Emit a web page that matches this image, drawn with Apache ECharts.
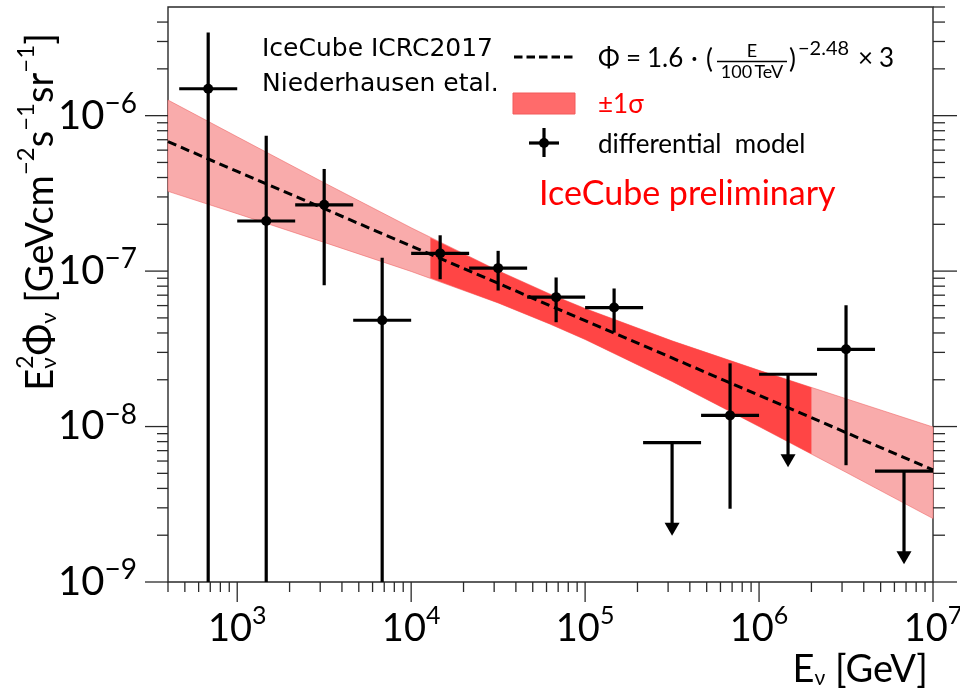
<!DOCTYPE html>
<html>
<head>
<meta charset="utf-8">
<title>IceCube differential neutrino flux</title>
<script src="https://cdn.jsdelivr.net/npm/echarts@6/dist/echarts.min.js"></script>
<style>
  html, body { margin: 0; padding: 0; background: #fff; }
  #chart { width: 960px; height: 688px; }
</style>
</head>
<body>
<div id="chart"></div>
<script>
// ---------------------------------------------------------------------------
// Data
// ---------------------------------------------------------------------------
// Energy bins of the differential fit [GeV]
const binLow    = [464, 1000, 2154, 4642, 10000, 21544, 46416, 100000, 215443, 464159, 1000000, 2154435, 4641589];
const binCenter = [681, 1468, 3162, 6813, 14678, 31623, 68129, 146780, 316228, 681292, 1467799, 3162278, 6812921];
const binHigh   = [1000, 2154, 4642, 10000, 21544, 46416, 100000, 215443, 464159, 1000000, 2154435, 4641589, 10000000];

// E^2 Phi per bin [GeV cm^-2 s^-1 sr^-1]; a lower error of 0 runs off the bottom of the axis
const flux     = [1.49e-6, 2.10e-7, 2.67e-7, 4.83e-8, 1.30e-7, 1.045e-7, 6.8e-8, 5.83e-8, 7.87e-9, 1.18e-8, 2.17e-8, 3.14e-8, 5.16e-9];
const fluxUp   = [3.43e-6, 7.43e-7, 4.54e-7, 1.22e-7, 1.70e-7, 1.35e-7, 9.1e-8, 7.73e-8, null, 2.55e-8, null, 6.03e-8, null];
const fluxDown = [0, 0, 8.11e-8, 0, 8.87e-8, 7.5e-8, 4.69e-8, 4.02e-8, null, 2.96e-9, null, 5.64e-9, null];
const upperLimit = [0, 0, 0, 0, 0, 0, 0, 0, 1, 0, 1, 0, 1];

// Single power-law model (x3), E^2 Phi
const modelE    = [400, 1000, 10000, 100000, 1000000, 10000000];
const modelFlux = [6.80e-7, 4.38e-7, 1.45e-7, 4.80e-8, 1.59e-8, 5.26e-9];

// +-1 sigma band, full extrapolated range
const bandE     = [400, 1000, 3162, 10000, 31623, 63096, 100000, 316228, 1000000, 3162278, 10000000];
const bandUpper = [1.26e-6, 7.31e-7, 3.70e-7, 1.90e-7, 1.007e-7, 7.11e-8, 5.75e-8, 3.56e-8, 2.30e-8, 1.51e-8, 9.93e-9];
const bandLower = [3.26e-7, 2.34e-7, 1.53e-7, 9.95e-8, 6.24e-8, 4.55e-8, 3.63e-8, 1.95e-8, 1.00e-8, 5.08e-9, 2.56e-9];

// +-1 sigma band inside the sensitive energy range
const coreE     = [12900, 31623, 63096, 100000, 316228, 1000000, 2000000];
const coreUpper = [1.64e-7, 1.007e-7, 7.11e-8, 5.75e-8, 3.56e-8, 2.30e-8, 1.78e-8];
const coreLower = [9.02e-8, 6.24e-8, 4.55e-8, 3.63e-8, 1.95e-8, 1.00e-8, 6.67e-9];

// Axis ranges and tick positions
const X_MIN = 400, X_MAX = 1e7, Y_MIN = 1e-9, Y_MAX = 5e-6;
const xDecades = [100, 1e3, 1e4, 1e5, 1e6, 1e7];
const yDecades = [1e-9, 1e-8, 1e-7, 1e-6];
const mantissas = [1, 2, 3, 4, 5, 6, 7, 8, 9];

// ---------------------------------------------------------------------------
const FONT = 'Lato, "DejaVu Sans", sans-serif';
const HAND = '"DejaVu Sans", sans-serif';
const INK = '#000';
const FRAME = '#2a2a2a';

function isDecade(v) {
  const l = Math.log10(v);
  return Math.abs(l - Math.round(l)) < 1e-6;
}
function ticksIn(decades, lo, hi) {
  const out = [];
  decades.forEach(d => mantissas.forEach(m => {
    const v = +(d * m).toPrecision(6);
    if (v >= lo * 0.9999 && v <= hi * 1.0001 && out.indexOf(v) < 0) out.push(v);
  }));
  return out;
}
const xTicks = ticksIn(xDecades, X_MIN, X_MAX);
const yTicks = ticksIn(yDecades, Y_MIN, Y_MAX);

// text helpers (baseline-anchored)
const mctx = document.createElement('canvas').getContext('2d');
function tw(t, size, fam) { mctx.font = size + 'px ' + fam; return mctx.measureText(t).width; }
function txt(t, x, base, size, fam, color, align) {
  return {
    type: 'text', x: x, y: base - 0.31 * size, silent: true,
    style: { text: t, fontSize: size, fontFamily: fam, fill: color || INK,
             align: align || 'left', verticalAlign: 'middle' }
  };
}
// pieces laid out left to right; "stack" keeps the pen where it is for the next piece
function run(pieces, fam) {
  let x = 0, held = 0;
  const kids = [];
  pieces.forEach(p => {
    const w = tw(p.t, p.s, fam);
    kids.push(txt(p.t, x, -(p.rise || 0), p.s, fam, p.c));
    if (p.stack) { held = w; }
    else { x += Math.max(w, held); held = 0; }
  });
  return { kids: kids, width: x };
}

// axis titles
const yTitle = run([
  { t: 'E', s: 38 }, { t: '2', s: 23, rise: 20, stack: true }, { t: '\u03bd', s: 22, rise: -3 },
  { t: '\u03a6', s: 38 }, { t: '\u03bd', s: 22, rise: -3 },
  { t: ' [GeVcm', s: 38 }, { t: '\u22122', s: 24, rise: 19 },
  { t: 's', s: 38 }, { t: '\u22121', s: 24, rise: 19 },
  { t: 'sr', s: 38 }, { t: '\u22121', s: 24, rise: 19 },
  { t: ']', s: 38 }
], FONT);
const xTitle = run([
  { t: 'E', s: 38 }, { t: '\u03bd', s: 21, rise: -3 }, { t: ' [GeV]', s: 38 }
], FONT);

// ---------------------------------------------------------------------------
const chart = echarts.init(document.getElementById('chart'), null, { renderer: 'canvas' });

function bandPolygon(E, up, lo, fill, stroke) {
  return function (params, api) {
    if (params.dataIndex !== 0) return null;
    const pts = [];
    for (let i = 0; i < E.length; i++) pts.push(api.coord([E[i], up[i]]));
    for (let i = E.length - 1; i >= 0; i--) pts.push(api.coord([E[i], lo[i]]));
    return { type: 'polygon', shape: { points: pts },
             style: { fill: fill, stroke: stroke, lineWidth: stroke ? 1 : 0 } };
  };
}

const ARROW = 93;

const option = {
  animation: false,
  backgroundColor: '#fff',
  grid: {
    left: 168, right: 27, top: 7, bottom: 106,
    show: true, borderColor: FRAME, borderWidth: 1.4, backgroundColor: 'transparent',
    containLabel: false, outerBoundsMode: 'none'
  },
  xAxis: {
    type: 'log', logBase: 10, min: X_MIN, max: X_MAX,
    axisLine: { show: false }, axisTick: { show: false },
    splitLine: { show: false }, minorTick: { show: false },
    axisLabel: {
      margin: 21, color: INK,
      formatter: v => isDecade(v) ? '{b|10}{s|' + Math.round(Math.log10(v)) + '}' : '',
      rich: {
        b: { fontSize: 38, fontFamily: FONT, color: INK, lineHeight: 52 },
        s: { fontSize: 25, fontFamily: FONT, color: INK, lineHeight: 25, verticalAlign: 'top' }
      }
    }
  },
  yAxis: {
    type: 'log', logBase: 10, min: Y_MIN, max: Y_MAX,
    axisLine: { show: false }, axisTick: { show: false },
    splitLine: { show: false }, minorTick: { show: false },
    axisLabel: {
      margin: 31, color: INK,
      formatter: v => isDecade(v) ? '{b|10}{s|\u2212' + (-Math.round(Math.log10(v))) + '}' : '',
      rich: {
        b: { fontSize: 40, fontFamily: FONT, color: INK, lineHeight: 52 },
        s: { fontSize: 28, fontFamily: FONT, color: INK, lineHeight: 28, verticalAlign: 'top' }
      }
    }
  },
  series: [
    {
      type: 'custom', name: 'band', z: 1, silent: true,
      data: [[bandE[0], bandUpper[0]]],
      renderItem: bandPolygon(bandE, bandUpper, bandLower, '#f9abab', 'rgba(236,96,96,0.55)')
    },
    {
      type: 'custom', name: 'core band', z: 2, silent: true,
      data: [[coreE[0], coreUpper[0]]],
      renderItem: bandPolygon(coreE, coreUpper, coreLower, '#ff4545', null)
    },
    {
      type: 'line', name: 'model', z: 3, silent: true,
      data: modelE.map((e, i) => [e, modelFlux[i]]),
      showSymbol: false, symbol: 'none',
      lineStyle: { color: INK, width: 3, type: [9, 5] }
    },
    {
      type: 'custom', name: 'differential model', z: 4, silent: true,
      data: binCenter.map((e, i) => [e, flux[i]]),
      renderItem: function (params, api) {
        const i = params.dataIndex;
        const cs = params.coordSys;
        const c = api.coord([binCenter[i], flux[i]]);
        const xl = api.coord([binLow[i], flux[i]])[0];
        const xr = api.coord([binHigh[i], flux[i]])[0];
        const st = { stroke: INK, lineWidth: 3.2 };
        const kids = [{ type: 'line', shape: { x1: xl, y1: c[1], x2: xr, y2: c[1] }, style: st }];
        if (upperLimit[i]) {
          const tip = c[1] + ARROW;
          kids.push({ type: 'line', shape: { x1: c[0], y1: c[1], x2: c[0], y2: tip - 11 }, style: st });
          kids.push({ type: 'polygon',
                      shape: { points: [[c[0] - 7.5, tip - 13], [c[0] + 7.5, tip - 13], [c[0], tip]] },
                      style: { fill: INK } });
        } else {
          const yTop = api.coord([binCenter[i], fluxUp[i]])[1];
          const yBot = fluxDown[i] > 0 ? api.coord([binCenter[i], fluxDown[i]])[1] : cs.y + cs.height;
          kids.push({ type: 'line', shape: { x1: c[0], y1: yTop, x2: c[0], y2: yBot }, style: st });
          kids.push({ type: 'circle', shape: { cx: c[0], cy: c[1], r: 5 }, style: { fill: INK } });
        }
        return { type: 'group', children: kids };
      }
    },
    {
      // energy-axis tick marks (decades long, 2..9 short)
      type: 'custom', name: 'x ticks', z: 6, silent: true, clip: false,
      data: xTicks.map(v => [v, Y_MIN]),
      renderItem: function (params, api) {
        const v = xTicks[params.dataIndex];
        const p = api.coord([v, Y_MIN]);
        const bottom = params.coordSys.y + params.coordSys.height;
        const len = isDecade(v) ? 20 : 10;
        return { type: 'line', shape: { x1: p[0], y1: bottom, x2: p[0], y2: bottom + len },
                 style: { stroke: FRAME, lineWidth: 1.3 } };
      }
    },
    {
      // flux-axis tick marks on both sides of the frame
      type: 'custom', name: 'y ticks', z: 6, silent: true, clip: false,
      data: yTicks.map(v => [X_MIN, v]),
      renderItem: function (params, api) {
        const v = yTicks[params.dataIndex];
        const p = api.coord([X_MIN, v]);
        const cs = params.coordSys;
        const major = isDecade(v);
        const kids = [];
        if (v < Y_MAX * 0.999) {
          const l = major ? 23 : 11;
          kids.push({ type: 'line', shape: { x1: cs.x - l, y1: p[1], x2: cs.x, y2: p[1] },
                      style: { stroke: FRAME, lineWidth: 1.3 } });
        }
        const r = major ? 24 : 12;
        kids.push({ type: 'line', shape: { x1: cs.x + cs.width, y1: p[1], x2: cs.x + cs.width + r, y2: p[1] },
                    style: { stroke: FRAME, lineWidth: 1.3 } });
        return { type: 'group', children: kids };
      }
    }
  ],
  graphic: [
    // reference tag
    txt('IceCube ICRC2017', 262, 57, 25, HAND),
    txt('Niederhausen etal.', 262, 92, 25, HAND),

    // legend: model line
    { type: 'line', silent: true, shape: { x1: 514, y1: 57, x2: 575, y2: 57 },
      style: { stroke: INK, lineWidth: 3, lineDash: [8.5, 4] } },
    txt('\u03a6', 598, 67, 26, FONT),
    txt('=', 626, 67, 26, FONT),
    txt('1.6', 647, 67, 26, FONT),
    txt('\u00b7', 691, 67, 26, FONT),
    txt('(', 706, 68, 26, FONT),
    txt('E', 752, 57, 18, FONT, INK, 'center'),
    { type: 'line', silent: true, shape: { x1: 717, y1: 61.5, x2: 787, y2: 61.5 },
      style: { stroke: INK, lineWidth: 1.3 } },
    txt('100\u2009TeV', 752, 78, 18, FONT, INK, 'center'),
    txt(')', 789, 68, 26, FONT),
    txt('\u22122.48', 798, 55, 20, FONT),
    txt('\u00d7', 858, 67, 26, FONT),
    txt('3', 879, 67, 26, FONT),

    // legend: band
    { type: 'rect', silent: true, shape: { x: 513, y: 93, width: 62, height: 21 },
      style: { fill: '#ff6b6b', stroke: '#f25a5a', lineWidth: 1 } },
    txt('\u00b11\u03c3', 598, 113, 26, FONT, '#f00'),

    // legend: data points
    { type: 'group', silent: true, children: [
      { type: 'line', shape: { x1: 529, y1: 143, x2: 559, y2: 143 }, style: { stroke: INK, lineWidth: 3.2 } },
      { type: 'line', shape: { x1: 544, y1: 128, x2: 544, y2: 157 }, style: { stroke: INK, lineWidth: 3.2 } },
      { type: 'circle', shape: { cx: 544, cy: 143, r: 5 }, style: { fill: INK } }
    ] },
    txt('differential  model', 598, 153, 26, FONT),

    txt('IceCube preliminary', 539, 205, 34, FONT, '#f00'),

    // axis titles
    { type: 'group', x: 928 - xTitle.width, y: 682, silent: true, children: xTitle.kids },
    { type: 'group', x: 53, y: 212 + yTitle.width / 2, rotation: Math.PI / 2, silent: true, children: yTitle.kids }
  ]
};

chart.setOption(option);
</script>
</body>
</html>
